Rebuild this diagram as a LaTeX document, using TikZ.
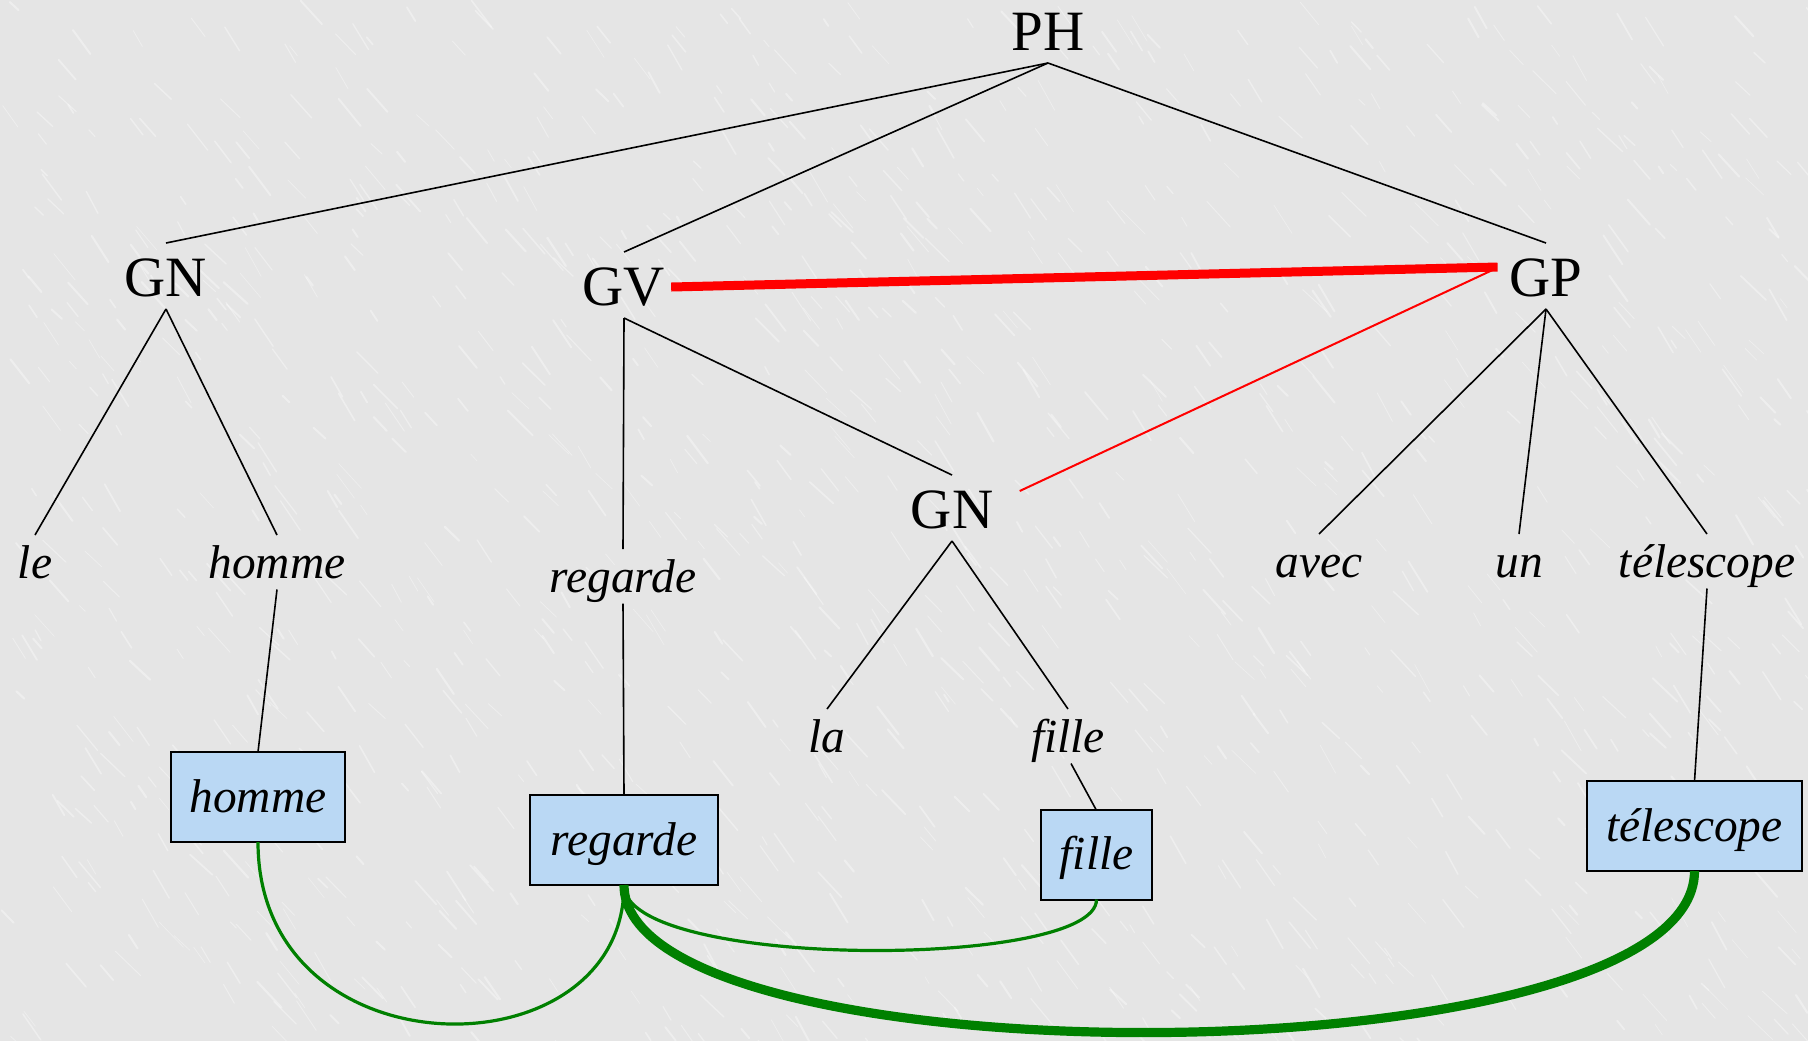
\documentclass[tikz,border=0pt]{standalone}
\usepackage{fontspec}
\setmainfont{Liberation Serif}
\definecolor{bgray}{RGB}{229,229,229}
\definecolor{boxblue}{RGB}{186,216,244}
\definecolor{lgreen}{RGB}{0,128,0}
\definecolor{lred}{RGB}{255,0,0}
\begin{document}
\begin{tikzpicture}[x=0.5pt,y=-0.5pt,
  phr/.style={font=\fontsize{28.5}{30}\selectfont, inner sep=0pt, outer sep=0pt,
              text height=26.5pt, text depth=6.5pt, anchor=base},
  wrd/.style={font=\fontsize{23.7}{26}\selectfont\itshape, inner sep=0pt, outer sep=0pt,
              text height=21.5pt, text depth=5.75pt, anchor=base},
  wbox/.style={draw=black, line width=1pt, fill=boxblue,
               font=\fontsize{23.7}{26}\selectfont\itshape, inner sep=0pt, outer sep=0pt,
               text height=17pt, text depth=2pt, minimum height=45pt},
  tree/.style={black, line width=0.8pt},
  redthick/.style={lred, line width=4.5pt},
  redthin/.style={lred, line width=1pt},
  gthin/.style={lgreen, line width=1.6pt},
  gthick/.style={lgreen, line width=4.6pt}]

% background (light grey with faint white veins)
\fill[bgray] (0,0) rectangle (1808,1041);
\useasboundingbox (0,0) rectangle (1808,1041);
\pgfmathsetseed{11}
\foreach \i in {1,...,1200}{
  \pgfmathsetmacro{\sx}{rnd*1808}
  \pgfmathsetmacro{\sy}{rnd*1041}
  \pgfmathsetmacro{\len}{8+rnd*28}
  \pgfmathsetmacro{\ang}{42+rnd*20}
  \pgfmathsetmacro{\lw}{0.3+rnd*0.8}
  \draw[white, opacity=0.35, line width=\lw pt, line cap=round] (\sx,\sy) -- ++(\ang:\len);
}

% phrase labels
\node[phr] (PH)  at (1048,50)  {PH};
\node[phr] (GN1) at (166,296)  {GN};
\node[phr] (GV)  at (624,305)  {GV};
\node[phr] (GP)  at (1546,296) {GP};
\node[phr] (GN2) at (952,528)  {GN};

% words
\node[wrd] (le)   at (35,578)   {le};
\node[wrd] (hom)  at (277,578)  {homme};
\node[wrd] (reg)  at (623,592)  {regarde};
\node[wrd] (la)   at (827,752)  {la};
\node[wrd] (fil)  at (1068,752) {fille};
\node[wrd] (avec) at (1319,577) {avec};
\node[wrd] (un)   at (1519,577) {un};
\node[wrd] (tel)  at (1707,577) {télescope};

% boxes
\node[wbox, minimum width=87pt]    (hbox) at (258,797)    {homme};
\node[wbox, minimum width=94pt]    (rbox) at (624,840)    {regarde};
\node[wbox, minimum width=55.5pt]  (fbox) at (1096.5,854.5) {fille};
\node[wbox, minimum width=107.5pt] (tbox) at (1694.5,826) {télescope};

% tree edges
\draw[tree] (PH.south) -- (GN1.north);
\draw[tree] (PH.south) -- (GV.north);
\draw[tree] (PH.south) -- (GP.north);
\draw[tree] (GN1.south) -- (le.north);
\draw[tree] (GN1.south) -- (hom.north);
\draw[tree] (GV.south) -- (reg.north);
\draw[tree] (GV.south) -- (GN2.north);
\draw[tree] (GN2.south) -- (la.north);
\draw[tree] (GN2.south) -- (fil.north);
\draw[tree] (GP.south) -- (avec.north);
\draw[tree] (GP.south) -- (un.north);
\draw[tree] (GP.south) -- (tel.north);

\draw[tree] (hom.south) -- (hbox.north);
\draw[tree] (reg.south) -- (rbox.north);
\draw[tree] ([xshift=1.5pt]fil.south) -- ([xshift=-0.25pt]fbox.north);
\draw[tree] (tel.south) -- (tbox.north);

% red attachment lines
\draw[redthick] ([xshift=3pt,yshift=-1pt]GV.east) -- ([xshift=-6pt,yshift=4.5pt]GP.west);
\draw[redthin] ([xshift=-8.5pt,yshift=3pt]GP.west) -- ([xshift=13.25pt,yshift=8.5pt]GN2.east);

% green dependency arcs
\draw[gthin] (hbox.south) .. controls +(0,235) and +(0,192) .. (rbox.south);
\draw[gthin] (rbox.south) .. controls +(0,85) and +(0,70) .. (fbox.south);
\draw[gthick] (rbox.south) .. controls +(0,200) and +(0,212) .. (tbox.south);
\end{tikzpicture}
\end{document}
